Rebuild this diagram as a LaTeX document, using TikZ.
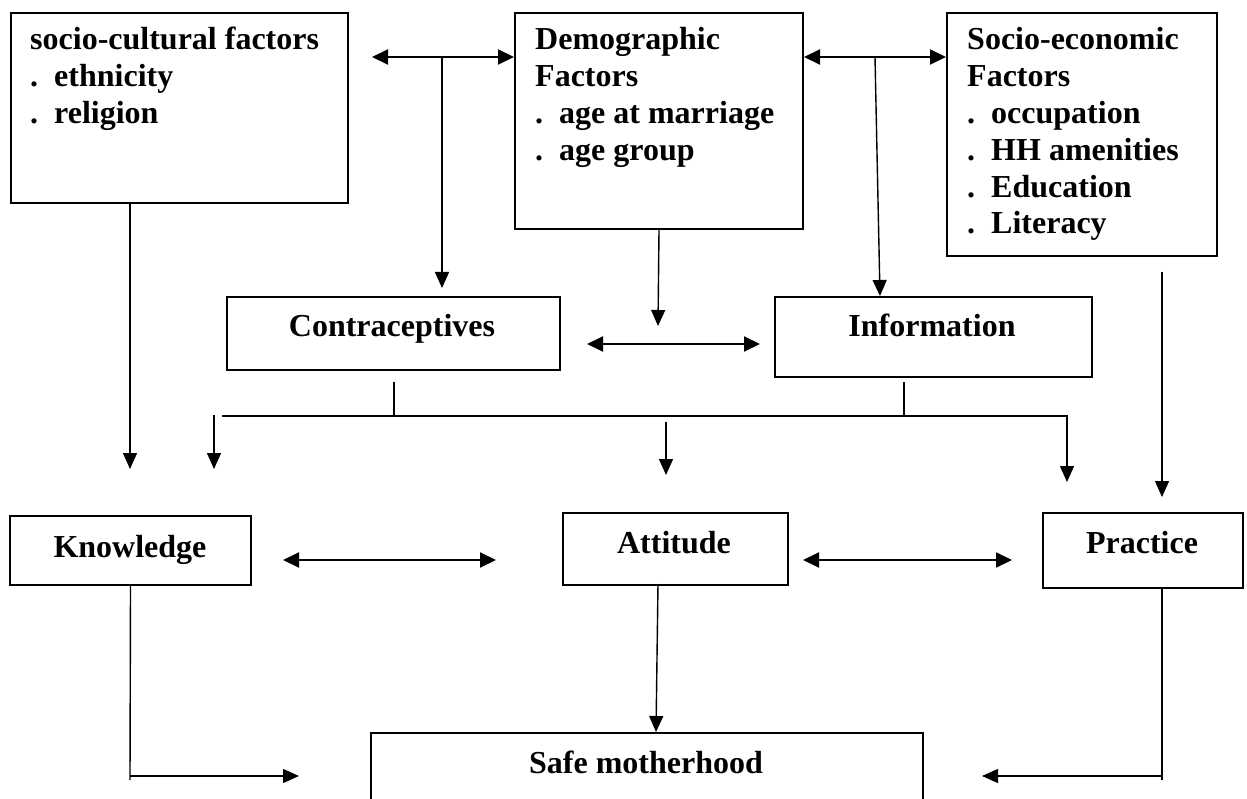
\documentclass[tikz,border=0pt]{standalone}
\usepackage{fontspec}
\setmainfont{Liberation Serif}
\usetikzlibrary{arrows.meta}
\newcommand\bulletdot{\makebox[24pt][l]{.}}
\begin{document}
\begin{tikzpicture}[x=1pt,y=-1pt,
  box/.style={draw,line width=2pt,inner sep=0pt,anchor=north west},
  txt/.style={inner sep=0pt,font=\fontsize{32}{36.8}\selectfont\bfseries},
  arr/.style={line width=1.4pt,-{Triangle[length=16pt,width=14pt]}},
  dbl/.style={line width=2pt,{Triangle[length=16pt,width=15pt]}-{Triangle[length=16pt,width=15pt]}},
  ln/.style={line width=1.4pt}]
\clip (0,0) rectangle (1247,799);
\fill[white] (0,0) rectangle (1247,799);
% boxes
\node[box,minimum width=337pt,minimum height=190pt] (sc) at (10,12) {};
\node[box,minimum width=288pt,minimum height=216pt] (dem) at (514,12) {};
\node[box,minimum width=270pt,minimum height=243pt] (se) at (946,12) {};
\node[box,minimum width=333pt,minimum height=73pt] (con) at (226,296) {};
\node[box,minimum width=317pt,minimum height=80pt] (inf) at (774,296) {};
\node[box,minimum width=241pt,minimum height=69pt] (kn) at (9,515) {};
\node[box,minimum width=225pt,minimum height=72pt] (att) at (562,512) {};
\node[box,minimum width=200pt,minimum height=75pt] (pr) at (1042,512) {};
\node[box,minimum width=552pt,minimum height=100pt] (safe) at (370,732) {};
% texts (base anchor = baseline of the last line)
\node[txt,align=left,anchor=base west] (sct) at (30,123.6) {socio-cultural factors\\\bulletdot ethnicity\\\bulletdot religion};
\node[txt,align=left,anchor=base west] (demt) at (535,160.4) {Demographic\\Factors\\\bulletdot age at marriage\\\bulletdot age group};
\node[txt,align=left,anchor=base west] (set) at (967,234) {Socio-economic\\Factors\\\bulletdot occupation\\\bulletdot HH amenities\\\bulletdot Education\\\bulletdot Literacy};
\node[txt,anchor=base] (cont) at (392,337) {Contraceptives};
\node[txt,anchor=base] (inft) at (932,337) {Information};
\node[txt,anchor=base] (knt) at (130,557) {Knowledge};
\node[txt,anchor=base] (attt) at (674,553) {Attitude};
\node[txt,anchor=base] (prt) at (1142,553) {Practice};
\node[txt,anchor=base] (safet) at (646,773) {Safe motherhood};
% coordinates
\coordinate (a1) at (372,57);
\coordinate (j1) at (442,57);
\coordinate (t1) at (442,288);
\coordinate (j2) at (875,57);
\coordinate (t2) at (880,296);
\coordinate (s1) at (130,202);
\coordinate (s2) at (130,469);
\coordinate (d2) at (658,326);
\coordinate (ca) at (587,344);
\coordinate (cb) at (760,344);
\coordinate (cd1) at (394,382);
\coordinate (cd2) at (394,416);
\coordinate (id1) at (904,382);
\coordinate (id2) at (904,416);
\coordinate (h1) at (222,416);
\coordinate (h2) at (1067,416);
\coordinate (h3) at (1067,482);
\coordinate (l1) at (214,415);
\coordinate (l2) at (214,469);
\coordinate (m1) at (666,422);
\coordinate (m2) at (666,475);
\coordinate (e1) at (1162,272);
\coordinate (e2) at (1162,497);
\coordinate (ka) at (283,560);
\coordinate (kb) at (496,560);
\coordinate (pa) at (803,560);
\coordinate (pb) at (1012,560);
\coordinate (k2) at (130,780);
\coordinate (k3) at (130,776);
\coordinate (k4) at (299,776);
\coordinate (at1) at (658,584);
\coordinate (at2) at (656,732);
\coordinate (p1) at (1162,587);
\coordinate (p2) at (1162,780);
\coordinate (p3) at (1162,776);
\coordinate (p4) at (982,776);
% connectors
\draw[dbl] (a1) -- (dem.west |- a1);
\draw[arr] (j1) -- (t1);
\draw[dbl] (dem.east |- j2) -- (se.west |- j2);
\draw[arr] (j2) -- (t2);
\draw[arr] (s1) -- (s2);
\draw[arr] (dem.south) -- (d2);
\draw[dbl] (ca) -- (cb);
\draw[ln] (cd1) -- (cd2);
\draw[ln] (id1) -- (id2);
\draw[arr,line width=1.6pt] (h1) -- (h2) -- (h3);
\draw[arr] (l1) -- (l2);
\draw[arr] (m1) -- (m2);
\draw[arr] (e1) -- (e2);
\draw[dbl] (ka) -- (kb);
\draw[dbl] (pa) -- (pb);
\draw[ln] (kn.south) -- (k2);
\draw[arr] (k3) -- (k4);
\draw[arr] (at1) -- (at2);
\draw[ln] (p1) -- (p2);
\draw[arr] (p3) -- (p4);
\end{tikzpicture}
\end{document}
